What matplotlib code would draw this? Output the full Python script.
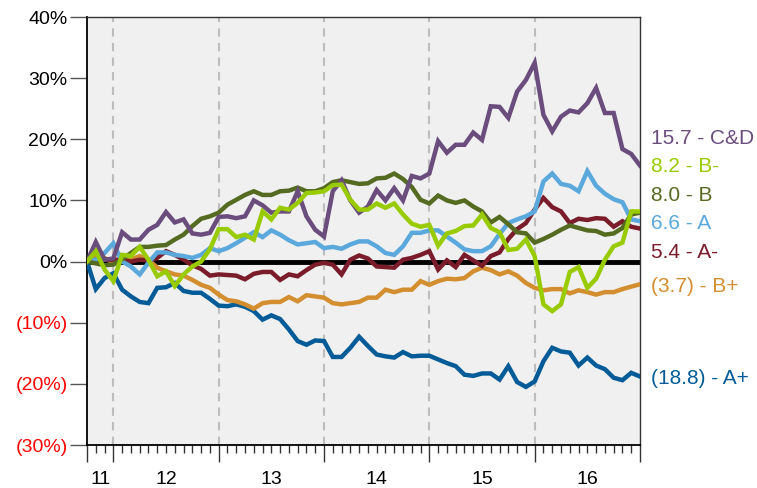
import matplotlib
matplotlib.use("Agg")
import matplotlib.pyplot as plt
import matplotlib.transforms as mtransforms
import numpy as np

plt.rcParams['font.family'] = ['Liberation Sans', 'DejaVu Sans']

# monthly returns (%), Oct 2011 .. Jan 2017
cd = [0, 3.2, 0.3, 0.5, 4.8, 3.6, 3.6, 5.2, 6.0, 8.1, 6.4, 6.9, 4.6, 4.4, 4.7, 7.3,
      7.4, 7.1, 7.4, 10.0, 9.2, 8.0, 8.2, 8.2, 11.5, 7.4, 5.2, 4.1, 11.5, 13.3, 10.0, 8.0,
      9.0, 11.7, 10.0, 12.0, 10.0, 14.0, 13.6, 14.4, 19.7, 17.8, 19.1, 19.1, 21.1, 19.9, 25.4, 25.3,
      23.5, 27.8, 29.7, 32.5, 24.0, 21.3, 23.7, 24.7, 24.4, 25.9, 28.4, 24.3, 24.3, 18.4, 17.6, 15.7]
b_minus = [0, 1.7, -1.3, -3.2, 1.1, 0.9, 2.4, 0.3, -2.4, -1.6, -4.0, -2.1, -0.8, 0, 2.0, 5.3,
           5.3, 4.0, 4.4, 3.6, 8.2, 6.9, 8.8, 8.5, 9.6, 11.2, 11.3, 11.5, 12.5, 12.6, 10.1, 8.5,
           8.5, 9.5, 8.8, 9.5, 7.7, 6.2, 5.7, 6.0, 2.6, 4.6, 5.0, 5.8, 5.9, 7.7, 5.5, 4.8,
           1.9, 2.1, 3.6, 0.9, -7.0, -8.1, -7.0, -1.7, -0.9, -4.3, -2.8, 0.3, 2.5, 3.1, 8.2, 8.2]
b = [0, -0.3, -0.6, -0.5, 0.4, 1.4, 2.4, 2.4, 2.6, 2.7, 3.6, 4.4, 5.8, 7.0, 7.4, 8.0,
     9.3, 10.1, 10.9, 11.5, 10.9, 10.9, 11.5, 11.6, 12.1, 11.5, 11.5, 12.0, 13.0, 13.3, 13.0, 12.7,
     12.8, 13.6, 13.7, 14.4, 13.5, 12.2, 10.1, 9.5, 10.8, 10.0, 9.6, 10.0, 9.0, 8.2, 6.4, 7.3,
     6.1, 4.8, 4.6, 3.1, 3.7, 4.4, 5.2, 5.9, 5.5, 5.1, 5.0, 4.4, 4.6, 5.5, 7.7, 8.0]
a = [0, 0.3, 1.4, 3.0, 0, -0.8, -2.1, -0.2, 1.5, 1.5, 1.1, 0.9, 0.6, 1.1, 2.2, 1.7,
     2.2, 3.0, 3.9, 4.8, 4.0, 5.1, 4.4, 3.5, 2.8, 3.0, 3.2, 2.2, 2.4, 2.1, 2.8, 3.3,
     3.3, 2.5, 1.4, 1.1, 2.5, 4.7, 4.7, 5.1, 5.1, 4.1, 3.1, 2.0, 1.7, 1.7, 2.5, 4.5,
     6.3, 6.9, 7.4, 8.2, 13.1, 14.4, 12.7, 12.4, 11.5, 14.8, 12.4, 11.1, 10.2, 9.7, 6.9, 6.6]
a_minus = [0, 0.3, 0.3, 0.3, 0.3, 0, 0.3, 0.2, 0.6, 1.7, 1.1, 0.3, -0.6, -1.2, -2.3, -2.1,
           -2.2, -2.3, -2.9, -2.0, -1.7, -1.7, -3.0, -2.1, -2.4, -1.4, -0.5, -0.2, -0.5, -2.1, 0.3, 1.0,
           0.5, -0.8, -0.9, -1.0, 0.3, 0.6, 1.1, 1.7, -1.3, 0.2, -0.9, 1.1, 0.2, -0.7, 0.9, 1.5,
           3.7, 5.3, 6.3, 8.5, 10.4, 8.9, 8.2, 6.3, 7.0, 6.8, 7.1, 7.0, 5.7, 6.6, 5.7, 5.4]
b_plus = [0, 1.0, 0.6, -0.2, 0.3, 0.3, 0.9, 0.3, -1.0, -1.6, -2.1, -2.3, -3.0, -3.8, -4.3, -5.4,
          -6.3, -6.5, -7.0, -7.7, -6.8, -6.6, -6.6, -5.8, -6.5, -5.5, -5.7, -5.9, -6.8, -7.0, -6.8, -6.6,
          -5.9, -5.9, -4.6, -5.0, -4.6, -4.6, -3.2, -3.8, -3.2, -2.8, -2.9, -2.7, -1.6, -1.0, -1.4, -2.1,
          -1.6, -2.3, -3.5, -4.3, -4.7, -4.5, -4.5, -5.2, -4.7, -5.0, -5.4, -5.0, -5.0, -4.5, -4.1, -3.7]
a_plus = [0, -4.5, -2.7, -1.9, -4.6, -5.7, -6.6, -6.8, -4.3, -4.2, -3.5, -4.8, -5.1, -5.1, -6.1, -7.2,
          -7.3, -7.0, -7.4, -8.1, -9.5, -8.8, -9.4, -11.1, -13.0, -13.6, -12.9, -13.0, -15.6, -15.6, -14.1, -12.3,
          -13.8, -15.2, -15.5, -15.7, -14.8, -15.5, -15.4, -15.4, -16.0, -16.6, -17.1, -18.5, -18.7, -18.3, -18.3, -19.3,
          -17.1, -19.7, -20.5, -19.6, -16.3, -14.1, -14.7, -14.9, -17.0, -15.7, -17.0, -17.6, -19.0, -19.4, -18.2, -18.8]

grades = ['C&D', 'B-', 'B', 'A', 'A-', 'B+', 'A+']
final_txt = ['15.7', '8.2', '8.0', '6.6', '5.4', '(3.7)', '(18.8)']
series = [cd, b_minus, b, a, a_minus, b_plus, a_plus]
colors = ['#6A4C7D', '#99CC00', '#566B22', '#5AA8DC', '#7A1C2A', '#D38E30', '#035C97']
label_y = [20.1, 15.5, 10.8, 6.2, 1.5, -4.0, -19.2]

year_labels = ['11', '12', '13', '14', '15', '16']
year_starts = [3, 15, 27, 39, 51]   # month index of Jan of each year
n_months = len(cd) - 1

fig = plt.figure(figsize=(7.57, 4.88), dpi=100)
ax = fig.add_axes([87 / 757, 1 - 445 / 488, 553 / 757, 428 / 488])
ax.set_facecolor('#F0F0F0')

x = np.arange(len(cd))
for yb in year_starts:
    ax.axvline(yb, color='#BDBDBD', lw=1.5, ls=(0, (4, 3)), zorder=1)
ax.axhline(0, color='black', lw=3.5, zorder=2)

draw_order = [6, 5, 4, 3, 2, 0, 1]
for k in draw_order:
    ax.plot(x, series[k], color=colors[k], lw=3.2, solid_joinstyle='miter', zorder=3)

ax.set_xlim(0, n_months)
ax.set_ylim(-30, 40)

yt = np.arange(-30, 41, 10)
ax.set_yticks(yt)
ax.set_yticklabels([f'{v}%' if v >= 0 else f'({-v}%)' for v in yt])
for lab, v in zip(ax.get_yticklabels(), yt):
    lab.set_color('black' if v >= 0 else '#FF0000')
ax.tick_params(axis='y', length=12, width=1, color='#555555', pad=2, labelsize=14)

ax.set_xticks([0] + year_starts + [n_months])
ax.set_xticklabels([])
ax.set_xticks(np.arange(0, n_months + 1), minor=True)
ax.tick_params(axis='x', which='major', length=12, width=1, color='#333333')
ax.tick_params(axis='x', which='minor', length=6, width=1, color='#333333')

edges = [0] + year_starts + [n_months]
trans = mtransforms.blended_transform_factory(ax.transData, ax.transAxes)
for lab, l, r in zip(year_labels, edges[:-1], edges[1:]):
    ax.text((l + r) / 2, -0.06, lab, transform=trans, ha='center', va='top', fontsize=14)

trans_r = mtransforms.blended_transform_factory(ax.transAxes, ax.transData)
for g, t, c, yy in zip(grades, final_txt, colors, label_y):
    ax.text(1.019, yy, f'{t} - {g}', transform=trans_r, color=c, fontsize=15,
            ha='left', va='center')

for side in ['left', 'bottom']:
    ax.spines[side].set_color('black')
    ax.spines[side].set_linewidth(1.3)
for side in ['top', 'right']:
    ax.spines[side].set_color('#333333')
    ax.spines[side].set_linewidth(1.0)

fig.savefig('out.png', dpi=100)
